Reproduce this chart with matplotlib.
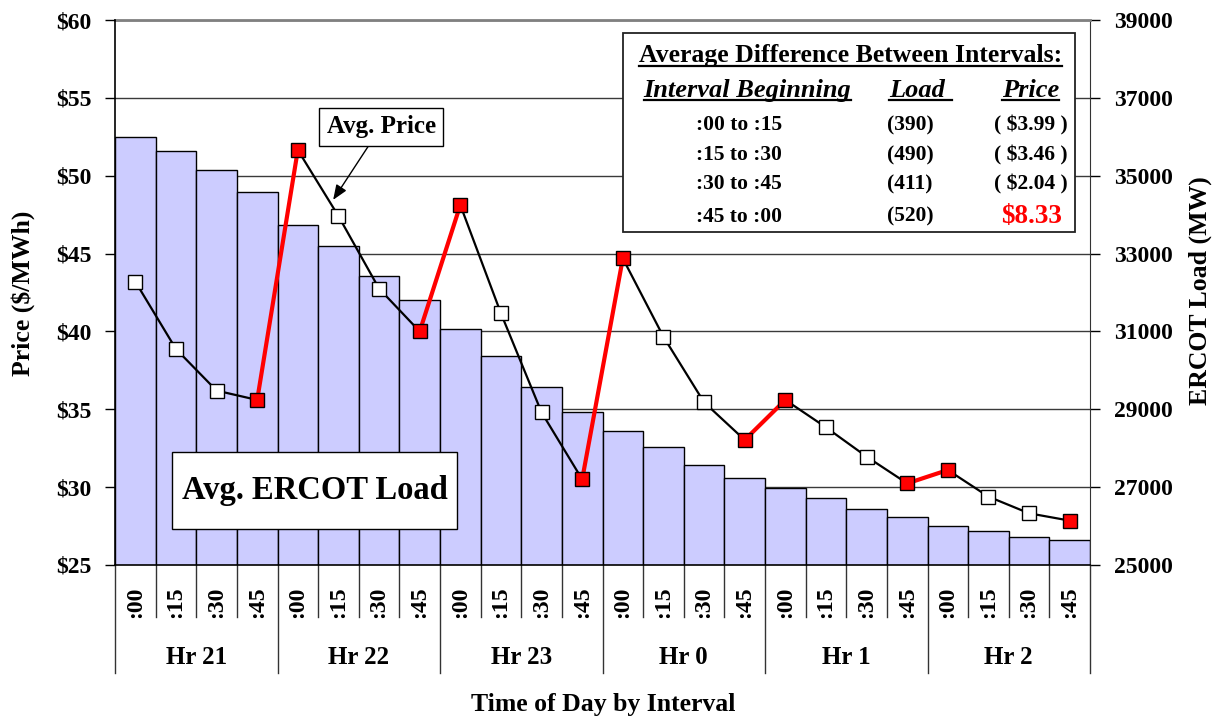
import matplotlib
matplotlib.use("Agg")
import matplotlib.pyplot as plt
from matplotlib.patches import Rectangle
from matplotlib.lines import Line2D
import matplotlib.transforms as mtransforms

plt.rcParams['font.family'] = ['Liberation Serif', 'DejaVu Serif']
plt.rcParams['font.weight'] = 'bold'

# ---------------- data ----------------
interval_labels = [":00", ":15", ":30", ":45"] * 6
hour_labels = ["Hr 21", "Hr 22", "Hr 23", "Hr 0", "Hr 1", "Hr 2"]
load_mw = [36000, 35640, 35150, 34580, 33730, 33200, 32430, 31810,
           31050, 30380, 29570, 28940, 28440, 28030, 27570, 27240,
           26970, 26710, 26430, 26230, 26010, 25870, 25730, 25630]
price = [43.20, 38.87, 36.20, 35.60, 51.65, 47.41, 42.75, 40.00,
         48.12, 41.16, 34.80, 30.50, 44.69, 39.66, 35.45, 33.03,
         35.60, 33.84, 31.96, 30.24, 31.10, 29.39, 28.32, 27.85]
price_ticks = [25, 30, 35, 40, 45, 50, 55, 60]
load_ticks = [25000, 27000, 29000, 31000, 33000, 35000, 37000, 39000]
table_rows = [":00 to :15", ":15 to :30", ":30 to :45", ":45 to :00"]
table_load = ["(390)", "(490)", "(411)", "(520)"]
table_price = ["( $3.99 )", "( $3.46 )", "( $2.04 )", "$8.33"]

W, H = 1212, 719
fx = lambda x: x / W
fy = lambda y: 1 - y / H

fig = plt.figure(figsize=(W / 100, H / 100), dpi=100)
ax = fig.add_axes([fx(115), fy(565), (1090 - 115) / W, (565 - 20) / H])
ax2 = ax.twinx()

n = len(load_mw)
xs = list(range(n))

# bars (load) on ax, right axis
ax.bar(xs, load_mw, width=1.0, color="#CCCCFF", edgecolor="black", linewidth=1.0, zorder=2)
ax.set_xlim(-0.5, n - 0.5)
ax.set_ylim(load_ticks[0], load_ticks[-1])
ax.set_yticks(load_ticks)
ax.set_yticklabels([str(v) for v in load_ticks])
ax.yaxis.tick_right()
ax.set_axisbelow(True)
ax.grid(axis="y", color="#3a3a3a", linewidth=1.0, zorder=0)
ax.set_xticks([])
ax.tick_params(axis="y", direction="out", length=7, width=1, pad=10, labelsize=17, colors="black")

ax.spines["left"].set_visible(False)
ax.spines["right"].set_color("#333333")
ax.spines["top"].set_color("#808080")
ax.spines["top"].set_linewidth(2)
ax.spines["bottom"].set_color("black")
ax.spines["bottom"].set_linewidth(1.2)

# price line on ax2, left axis
ax2.set_ylim(price_ticks[0], price_ticks[-1])
ax2.set_yticks(price_ticks)
ax2.set_yticklabels(["$%d" % v for v in price_ticks])
ax2.yaxis.tick_left()
ax2.tick_params(axis="y", direction="out", length=7, width=1, pad=10, labelsize=17)
for s in ["right", "top", "bottom"]:
    ax2.spines[s].set_visible(False)
ax2.spines["left"].set_color("black")
ax2.spines["left"].set_linewidth(1.2)

for i in range(n - 1):
    red = (i % 4 == 3)
    ax2.plot([xs[i], xs[i + 1]], [price[i], price[i + 1]],
             color="#FF0000" if red else "black",
             linewidth=3.0 if red else 1.6, zorder=3, solid_capstyle="butt")
for i in range(n):
    red = (i % 4 == 3) or (i % 4 == 0 and i > 0)
    ax2.plot(xs[i], price[i], marker="s", markersize=9.5,
             markerfacecolor="#FF0000" if red else "white",
             markeredgecolor="black", markeredgewidth=1.0, zorder=4, linestyle="none")

# custom category axis below
trans = mtransforms.blended_transform_factory(ax.transData, ax.transAxes)
axh = 545.0
for b in range(n + 1):
    xb = b - 0.5
    depth = (673 - 565) / axh if b % 4 == 0 else (617 - 565) / axh
    ax.add_line(Line2D([xb, xb], [0, -depth], transform=trans, color="#333333",
                       linewidth=1.0, clip_on=False))
for i, lab in enumerate(interval_labels):
    ax.text(xs[i], -(602 - 565) / axh, lab, transform=trans, rotation=90,
            ha="center", va="center", fontsize=17, fontweight="bold")
for h, lab in enumerate(hour_labels):
    ax.text(4 * h + 1.5, -(658 - 565) / axh, lab, transform=trans,
            ha="center", va="center", fontsize=18, fontweight="bold")

fig.text(fx(603), fy(705), "Time of Day by Interval", ha="center", va="center",
         fontsize=18.5, fontweight="bold")
fig.text(fx(23), fy(293), "Price ($/MWh)", rotation=90, ha="center", va="center",
         fontsize=18.5, fontweight="bold")
fig.text(fx(1200), fy(291), "ERCOT Load (MW)", rotation=90, ha="center", va="center",
         fontsize=18.5, fontweight="bold")

# Avg. ERCOT Load box
fig.add_artist(Rectangle((fx(172), fy(529)), (457 - 172) / W, (529 - 452) / H,
                         transform=fig.transFigure, facecolor="white",
                         edgecolor="black", linewidth=1.0, zorder=5))
fig.text(fx(314.5), fy(491), "Avg. ERCOT Load", ha="center", va="center",
         fontsize=23.5, fontweight="bold", zorder=6)

# Avg. Price annotation
ax2.annotate("Avg. Price", xy=(4.87, 48.45), xytext=(6.05, 53.15),
             textcoords="data", ha="center", va="center", fontsize=18, fontweight="bold",
             bbox=dict(boxstyle="square,pad=0.3", fc="white", ec="black", lw=1.0),
             arrowprops=dict(arrowstyle="-|>,head_length=0.5,head_width=0.2",
                             color="black", lw=1.0, shrinkA=0, shrinkB=0),
             zorder=6)

# Table box
fig.add_artist(Rectangle((fx(622.7), fy(231.7)), (1075 - 622.7) / W, (231.7 - 33.3) / H,
                         transform=fig.transFigure, facecolor="white",
                         edgecolor="#222222", linewidth=1.3, zorder=5))
t_title = fig.text(fx(1062), fy(61.7), "Average Difference Between Intervals:",
                   ha="right", va="baseline", fontsize=18.5, fontweight="bold", zorder=6)
h1 = fig.text(fx(747.5), fy(97.3), "Interval Beginning", ha="center", va="baseline",
              fontsize=19, fontweight="bold", fontstyle="italic", zorder=6)
h2 = fig.text(fx(889), fy(97.3), "Load ", ha="left", va="baseline",
              fontsize=19, fontweight="bold", fontstyle="italic", zorder=6)
h3 = fig.text(fx(1030.5), fy(97.3), "Price", ha="center", va="baseline",
              fontsize=19, fontweight="bold", fontstyle="italic", zorder=6)
row_base = [130, 160, 189, 221.7]
for k in range(4):
    fig.text(fx(739), fy(row_base[k]), table_rows[k], ha="center", va="baseline",
             fontsize=15.5, fontweight="bold", zorder=6)
    fig.text(fx(910), fy(row_base[k]), table_load[k], ha="center", va="baseline",
             fontsize=15.5, fontweight="bold", zorder=6)
    if k < 3:
        fig.text(fx(1031), fy(row_base[k]), table_price[k], ha="center", va="baseline",
                 fontsize=15.5, fontweight="bold", zorder=6)
    else:
        fig.text(fx(1032), fy(222.7), table_price[k], ha="center", va="baseline",
                 fontsize=19.5, fontweight="bold", color="#FF0000", zorder=6)

# underlines
fig.canvas.draw()
r = fig.canvas.get_renderer()
for t, yline in [(t_title, 65.5), (h1, 99.5), (h2, 99.5), (h3, 99.5)]:
    bb = t.get_window_extent(r)
    fig.add_artist(Line2D([bb.x0 / W, bb.x1 / W], [fy(yline), fy(yline)],
                          transform=fig.transFigure, color="black", linewidth=1.6, zorder=6))

fig.savefig("out.png", dpi=100)
